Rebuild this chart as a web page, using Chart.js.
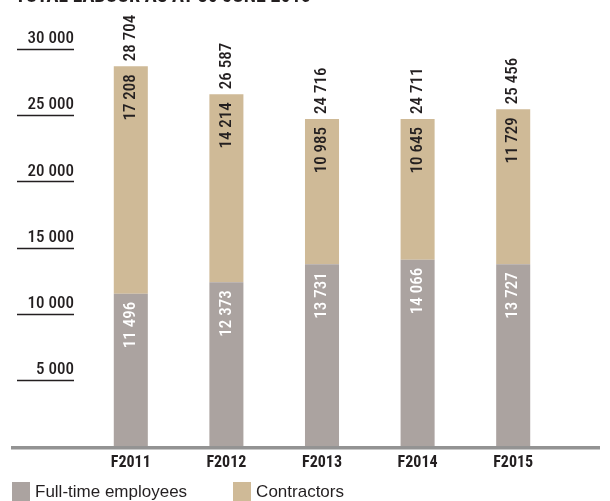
<!DOCTYPE html>
<html>
<head>
<meta charset="utf-8">
<script src="https://cdn.jsdelivr.net/npm/chart.js@4.4.0/dist/chart.umd.min.js"></script>
<style>
html,body{margin:0;padding:0;background:#fff;overflow:hidden}
#wrap{position:relative;width:610px;height:501px}
#title{position:absolute;left:15px;top:-15px;font:bold 20px 'Roboto Condensed',sans-serif;line-height:20px;color:#231f20;white-space:nowrap}
#legend{position:absolute;left:12px;top:482px;height:20px;display:flex;font:17px 'Liberation Sans',Arial,sans-serif;color:#231f20}
.item{display:flex;align-items:center;white-space:nowrap}
.item i{display:inline-block;width:18px;height:20px;margin-right:5px}
.item+.item{margin-left:46px}
</style>
</head>
<body>
<div id="wrap">
  <canvas id="myChart" width="610" height="501"></canvas>
  <div id="title">TOTAL LABOUR AS AT 30 JUNE 2015</div>
  <div id="legend"></div>
</div>
<script>
// values
const years = ['F2011', 'F2012', 'F2013', 'F2014', 'F2015'];
const fullTime = [11496, 12373, 13731, 14066, 13727];
const contractors = [17208, 14214, 10985, 10645, 11729];
const totals = [28704, 26587, 24716, 24711, 25456];
const seriesNames = ['Full-time employees', 'Contractors'];

const grey = '#aba3a0';
const tan = '#cfba97';
const ink = '#231f20';
const narrow = "'Roboto Condensed',sans-serif";

function fmt(n){
  return String(n).replace(/\B(?=(\d{3})+(?!\d))/g, ' ');
}

// rotated value labels inside the segments and totals on top
const barLabels = {
  id: 'barLabels',
  afterDatasetsDraw(chart){
    let ctx = chart.ctx;
    ctx.save();
    ctx.font = '500 17px ' + narrow;
    ctx.textBaseline = 'middle';
    chart.data.datasets.forEach((ds, di) => {
      chart.getDatasetMeta(di).data.forEach((bar, i) => {
        ctx.save();
        ctx.translate(bar.x, bar.y + 8);
        ctx.rotate(-Math.PI / 2);
        ctx.textAlign = 'right';
        ctx.fillStyle = di == 0 ? '#fff' : ink;
        ctx.fillText(fmt(ds.data[i]), 0, 0);
        ctx.restore();
      });
    });
    let last = chart.getDatasetMeta(chart.data.datasets.length - 1);
    last.data.forEach((bar, i) => {
      ctx.save();
      ctx.translate(bar.x, bar.y - 5);
      ctx.rotate(-Math.PI / 2);
      ctx.textAlign = 'left';
      ctx.fillStyle = ink;
      ctx.fillText(fmt(totals[i]), 0, 0);
      ctx.restore();
    });
    ctx.restore();
  }
};

// short rules under the y tick labels and the long base line
const axisRules = {
  id: 'axisRules',
  afterDraw(chart){
    let ctx = chart.ctx;
    let y = chart.scales.y;
    ctx.save();
    ctx.strokeStyle = ink;
    ctx.lineWidth = 1.3;
    y.ticks.forEach(t => {
      if (t.value == 0) return;
      let py = Math.round(y.getPixelForValue(t.value)) + 0.5;
      ctx.beginPath();
      ctx.moveTo(17, py);
      ctx.lineTo(74, py);
      ctx.stroke();
    });
    let base = y.getPixelForValue(0);
    ctx.strokeStyle = '#939393';
    ctx.lineWidth = 3.5;
    ctx.beginPath();
    ctx.moveTo(11, base + 1.75);
    ctx.lineTo(600, base + 1.75);
    ctx.stroke();
    ctx.restore();
  }
};

const ctx = document.getElementById('myChart');
var myChart = new Chart(ctx, {
  type: 'bar',
  data: {
    labels: years,
    datasets: [
      {label: seriesNames[0], data: fullTime, backgroundColor: grey},
      {label: seriesNames[1], data: contractors, backgroundColor: tan}
    ]
  },
  options: {
    responsive: false,
    animation: false,
    categoryPercentage: 1,
    barPercentage: 0.356,
    layout: {padding: {top: 49, left: 0, right: 49, bottom: 0}},
    plugins: {
      legend: {display: false},
      tooltip: {enabled: false}
    },
    scales: {
      x: {
        stacked: true,
        grid: {display: false, drawTicks: false},
        border: {display: false},
        ticks: {color: ink, padding: 7, font: {family: narrow, size: 16, weight: 'bold'}},
        afterFit: s => { s.height = 55; }
      },
      y: {
        stacked: true,
        min: 0,
        max: 30000,
        grid: {display: false, drawTicks: false},
        border: {display: false},
        ticks: {
          stepSize: 5000,
          color: ink,
          padding: 9,
          labelOffset: -10,
          font: {family: narrow, size: 17, weight: 500},
          callback: v => v == 0 ? '' : fmt(v)
        },
        afterFit: s => { s.width = 83; }
      }
    }
  },
  plugins: [barLabels, axisRules]
});

// legend built from the datasets
let legend = document.getElementById('legend');
myChart.data.datasets.forEach(ds => {
  let item = document.createElement('span');
  item.className = 'item';
  let box = document.createElement('i');
  box.style.background = ds.backgroundColor;
  item.appendChild(box);
  item.appendChild(document.createTextNode(ds.label));
  legend.appendChild(item);
});
</script>
</body>
</html>
